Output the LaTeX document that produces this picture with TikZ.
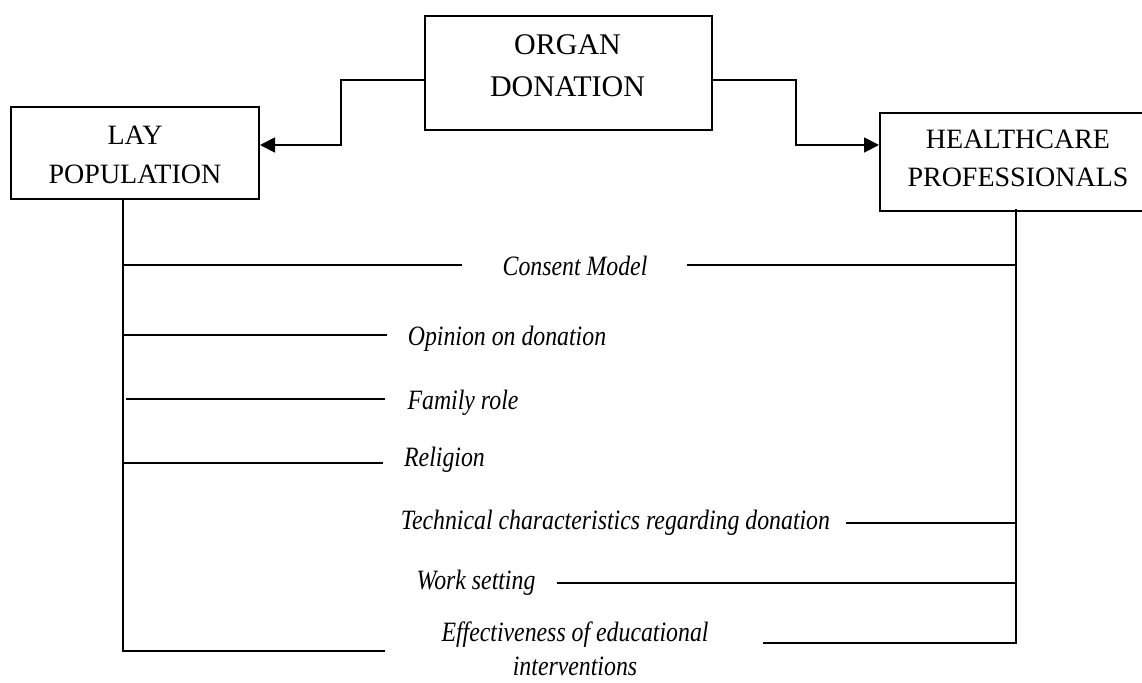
\documentclass[tikz,border=0pt]{standalone}
\usepackage{fontspec}
\setmainfont{Liberation Serif}
\newfontfamily\itfam[FakeStretch=0.85]{Liberation Serif}
\usetikzlibrary{arrows.meta}
\begin{document}
\begin{tikzpicture}[x=1pt,y=-1pt,
  box/.style={draw, line width=2pt, inner sep=0pt},
  boxtxt/.style={align=center, inner sep=0pt, font=\fontsize{28}{38.3}\selectfont},
  item/.style={inner sep=0pt, font=\itfam\itshape\fontsize{28}{36.7}\selectfont, text height=18pt, text depth=0pt},
  ln/.style={line width=1.8pt},
  arr/.style={ln, -{Triangle[length=15pt,width=15pt]}}]
\useasboundingbox (0,0) rectangle (1142,682);
\clip (0,0) rectangle (1142,682);
% boxes
\node[box, minimum width=287pt, minimum height=114pt] (organ) at (568.5,73) {};
\node[boxtxt, font=\fontsize{30}{41.7}\selectfont] (organtxt) at (567.5,65.9) {ORGAN\\DONATION};
\node[box, minimum width=248pt, minimum height=92pt] (lay) at (135,153) {};
\node[boxtxt] (laytxt) at (135,154.9) {LAY\\POPULATION};
\node[box, minimum width=276pt, minimum height=98pt] (hc) at (1018,162) {};
\node[boxtxt] (hctxt) at (1018,158.3) {HEALTHCARE\\PROFESSIONALS};
% arrows
\draw[arr] ([yshift=-7pt]organ.west) -- ++(-83,0) |- ([yshift=8pt]lay.east);
\draw[arr] ([yshift=-7pt]organ.east) -- ++(83,0) |- ([yshift=17pt]hc.west);
% items
\node[item] (consent) at (575,266) {Consent Model};
\node[item] (opinion) at (507,336) {Opinion on donation};
\node[item] (family) at (463,400) {Family role};
\node[item] (religion) at (444.5,457) {Religion};
\node[item] (tech) at (615.5,520) {Technical characteristics regarding donation};
\node[item] (work) at (476,580) {Work setting};
\node[item, font=\itfam\itshape\fontsize{28}{34}\selectfont, text height=, text depth=, align=center, anchor=north] (eff) at (575,622) {Effectiveness of educational\\interventions};
% trunks
\coordinate (Lbot) at (123,651);
\coordinate (Rbot) at (1016,643);
\coordinate (L1) at (123,265);
\coordinate (L2) at (123,335);
\coordinate (L3) at (126,399);
\coordinate (L4) at (123,463);
\coordinate (R1) at (1016,265);
\coordinate (R2) at (1016,523);
\coordinate (R3) at (1016,583);
\draw[ln] (lay.south -| Lbot) -- (Lbot) -- ([xshift=-56.5pt]eff.west |- Lbot);
\draw[ln] ([yshift=3pt]hc.south -| Rbot) -- (Rbot) -- ([xshift=54.5pt]eff.east |- Rbot);
% branches
\draw[ln] (L1) -- ([xshift=-40.5pt]consent.west |- L1);
\draw[ln] ([xshift=39.5pt]consent.east |- R1) -- (R1);
\draw[ln] (L2) -- ([xshift=-21pt]opinion.west |- L2);
\draw[ln] (L3) -- ([xshift=-22pt]family.west |- L3);
\draw[ln] (L4) -- ([xshift=-21pt]religion.west |- L4);
\draw[ln] ([xshift=15.5pt]tech.east |- R2) -- (R2);
\draw[ln] ([xshift=21.5pt]work.east |- R3) -- (R3);
\end{tikzpicture}
\end{document}
